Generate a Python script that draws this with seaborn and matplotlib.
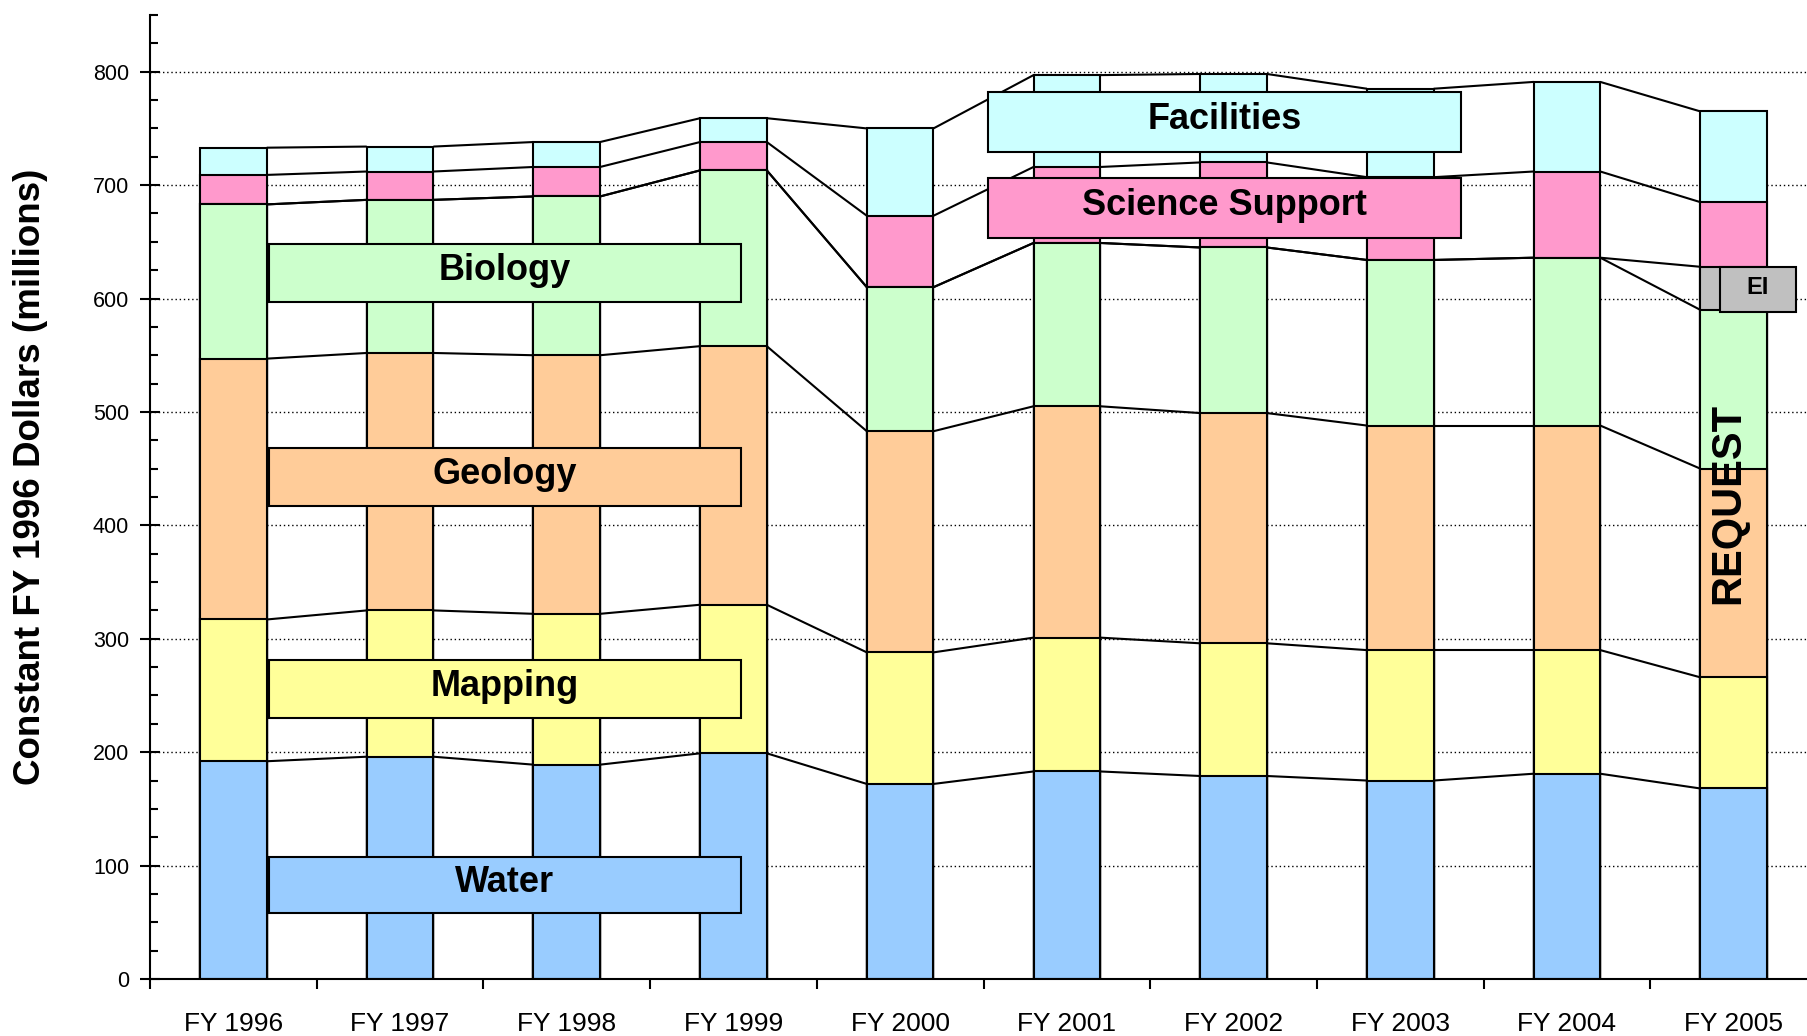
import numpy as np
import matplotlib
matplotlib.use("Agg")
import matplotlib.pyplot as plt
import seaborn as sns
from matplotlib.patches import Rectangle

# %% DATA (constant FY 1996 dollars, millions)
years = ["FY 1996", "FY 1997", "FY 1998", "FY 1999", "FY 2000",
         "FY 2001", "FY 2002", "FY 2003", "FY 2004", "FY 2005"]
water = [192, 196, 189, 199, 172, 183, 179, 175, 181, 168]
mapping = [125, 129, 133, 131, 116, 118, 117, 115, 109, 98]
geology = [230, 227, 228, 228, 195, 204, 203, 198, 198, 184]
biology = [136, 135, 140, 155, 127, 144, 146, 146, 148, 140]
ei = [0, 0, 0, 0, 0, 0, 0, 0, 0, 38]
science_support = [26, 25, 26, 25, 63, 67, 75, 73, 76, 57]
facilities = [24, 22, 22, 21, 77, 81, 78, 78, 79, 80]

programs = ["Water", "Mapping", "Geology", "Biology", "EI", "Science Support", "Facilities"]
colors = ["#99CCFF", "#FFFF99", "#FFCC99", "#CCFFCC", "#C0C0C0", "#FF99CC", "#CCFFFF"]
amounts = [water, mapping, geology, biology, ei, science_support, facilities]
cum = np.cumsum(np.array(amounts), axis=0)

# %% STYLE
sns.set_theme(style="white")
plt.rcParams["font.family"] = ["Liberation Sans", "DejaVu Sans"]
for key in ["text.color", "axes.labelcolor", "xtick.color", "ytick.color", "axes.edgecolor"]:
    plt.rcParams[key] = "black"

fig = plt.figure(figsize=(18.08, 10.36), dpi=100)
ax = fig.add_axes([150 / 1808, 57 / 1036, 1667 / 1808, 0.9305])

# stacked bars: draw cumulative totals from the top layer down
bw = 0.4
for k in range(len(programs) - 1, -1, -1):
    sns.barplot(x=years, y=cum[k], color=colors[k], saturation=1, width=bw,
                edgecolor="black", linewidth=1.5, errorbar=None, ax=ax, zorder=2)

# connecting lines between adjacent bars
for k in range(len(programs)):
    for i in range(len(years) - 1):
        ax.plot([i + bw / 2, i + 1 - bw / 2], [cum[k][i], cum[k][i + 1]],
                color="black", lw=1.5, zorder=3, solid_capstyle="butt")

ax.set_xlim(-0.5, 9.5)
ax.set_ylim(0, 850)

# grid + ticks
ax.set_yticks(np.arange(0, 801, 100))
ax.set_yticks(np.arange(0, 851, 25), minor=True)
ax.yaxis.grid(True, which="major", linestyle=(0, (1, 2)), color="black", lw=1.0)
ax.xaxis.grid(False)
ax.set_axisbelow(True)
ax.set_xticks(np.arange(-0.5, 10, 1), minor=True)
ax.tick_params(axis="x", which="major", length=0, pad=23.5, labelsize=19)
ax.tick_params(axis="x", which="minor", bottom=True, direction="out", length=7, width=1.5)
ax.tick_params(axis="y", which="major", left=True, direction="inout", length=14, width=1.5,
               labelsize=15.5, pad=8)
ax.tick_params(axis="y", which="minor", left=True, direction="in", length=6, width=1.5)
for s in ["top", "right"]:
    ax.spines[s].set_visible(False)
for s in ["left", "bottom"]:
    ax.spines[s].set_linewidth(1.5)
ax.set_xlabel("")
ax.set_ylabel("")
fig.text(31 / 1808, 1 - 477 / 1036, "Constant FY 1996 Dollars (millions)", rotation=90,
         ha="center", va="center", fontweight="bold", fontsize=26.5)

# label boxes
boxes = [
    ("Biology", colors[3], 0.214, 3.045, 597, 648, 26),
    ("Geology", colors[2], 0.214, 3.045, 417, 468, 26),
    ("Mapping", colors[1], 0.214, 3.045, 230, 281, 26),
    ("Water", colors[0], 0.214, 3.045, 58, 108, 26),
    ("Facilities", colors[6], 4.527, 7.365, 729.5, 782.4, 26),
    ("Science Support", colors[5], 4.527, 7.365, 653.2, 706.3, 26),
    ("EI", colors[4], 8.918, 9.374, 587.7, 627.9, 17),
]
for name, c, x0, x1, y0, y1, fs in boxes:
    ax.add_patch(Rectangle((x0, y0), x1 - x0, y1 - y0, facecolor=c, edgecolor="black",
                           lw=1.5, zorder=5, clip_on=False))
    ax.text((x0 + x1) / 2, (y0 + y1) / 2 + 2, name, ha="center", va="center",
            fontweight="bold", fontsize=fs, zorder=6)

ax.text(8.97, 419, "REQUEST", rotation=90, ha="center", va="center",
        fontweight="bold", fontsize=30, zorder=6)

fig.savefig("out.png", dpi=100)
